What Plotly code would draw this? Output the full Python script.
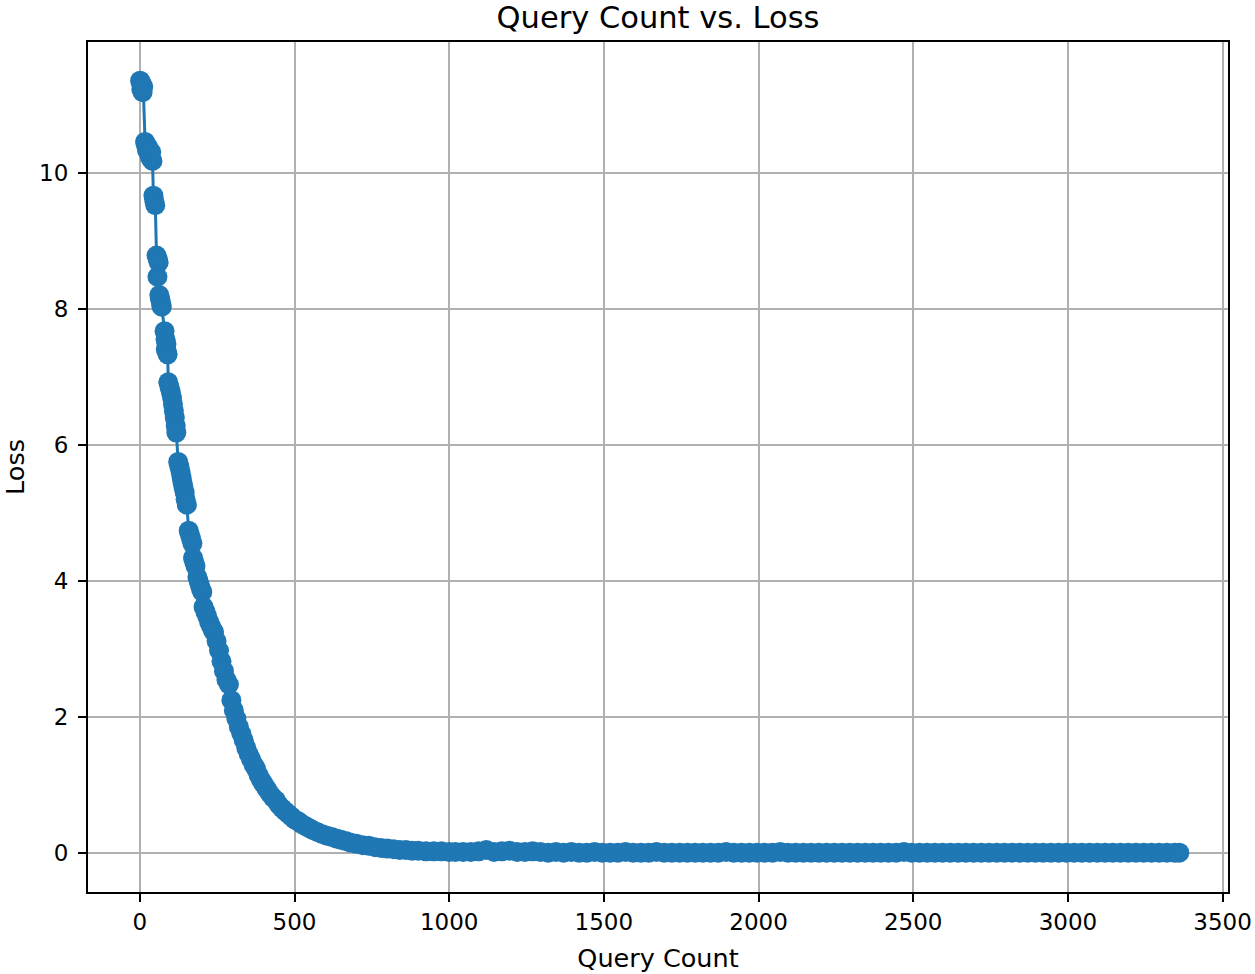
import plotly.graph_objects as go

# Early (clustered) part of the curve
early_query = [1, 3, 5, 7, 9, 11,
               17, 20, 23, 26, 29, 33, 37, 41,
               44, 47, 50,
               54, 58, 61, 57,
               63, 65, 67, 69, 71,
               80, 83, 86, 84, 88, 90,
               92, 96, 100, 104, 107, 110, 113, 116, 118,
               124, 128, 132, 135, 138, 141, 145, 148, 152,
               158, 162, 166, 170,
               172, 176, 180,
               186, 190, 194, 198, 202,
               206, 212, 218, 224, 230, 236]
early_loss = [11.35, 11.33, 11.22, 11.30, 11.18, 11.26,
              10.45, 10.40, 10.33, 10.38, 10.28, 10.22, 10.30, 10.17,
              9.66, 9.58, 9.52,
              8.78, 8.73, 8.68, 8.47,
              8.20, 8.15, 8.12, 8.06, 8.03,
              7.67, 7.55, 7.48, 7.40, 7.36, 7.33,
              6.92, 6.85, 6.78, 6.70, 6.60, 6.50, 6.40, 6.28, 6.18,
              5.75, 5.68, 5.60, 5.52, 5.45, 5.38, 5.30, 5.20, 5.12,
              4.74, 4.68, 4.62, 4.55,
              4.34, 4.28, 4.22,
              4.06, 4.00, 3.94, 3.88, 3.84,
              3.62, 3.55, 3.48, 3.40, 3.34, 3.28]

# Continuous decay section
mid_query = [240, 248, 256, 264, 272, 280, 288, 296, 304, 312, 320, 328, 336, 344,
             352, 360, 368, 376, 384, 392, 400, 410, 420, 430, 440, 450, 460, 470,
             480, 490, 500, 512, 524, 536, 548, 560, 575, 590, 605, 620, 635, 650,
             665, 680, 700, 720, 740, 760, 780, 800, 820, 840, 860, 880, 900, 925,
             950, 975, 1000]
mid_loss = [3.25, 3.12, 2.98, 2.82, 2.68, 2.55, 2.48, 2.25, 2.10, 1.98, 1.86, 1.76, 1.66, 1.55,
            1.46, 1.38, 1.30, 1.24, 1.15, 1.08, 1.02, 0.95, 0.88, 0.82, 0.78, 0.71, 0.66, 0.62,
            0.58, 0.54, 0.50, 0.47, 0.43, 0.40, 0.37, 0.34, 0.31, 0.28, 0.26, 0.24, 0.22, 0.20,
            0.18, 0.16, 0.14, 0.12, 0.11, 0.09, 0.08, 0.07, 0.06, 0.05, 0.05, 0.04, 0.04, 0.03,
            0.03, 0.03, 0.02]

# Flat tail
tail_query = [1020, 1045, 1070, 1095, 1120, 1145, 1170, 1195, 1220, 1245,
              1270, 1295, 1320, 1345, 1370, 1395, 1420, 1445, 1470, 1495,
              1520, 1545, 1570, 1595, 1620, 1645, 1670, 1695, 1720, 1745,
              1770, 1795, 1820, 1845, 1870, 1895, 1920, 1945, 1970, 1995,
              2020, 2045, 2070, 2095, 2120, 2145, 2170, 2195, 2220, 2245,
              2270, 2295, 2320, 2345, 2370, 2395, 2420, 2445, 2470, 2495,
              2520, 2545, 2570, 2595, 2620, 2645, 2670, 2695, 2720, 2745,
              2770, 2795, 2820, 2845, 2870, 2895, 2920, 2945, 2970, 2995,
              3020, 3045, 3070, 3095, 3120, 3145, 3170, 3195, 3220, 3245,
              3270, 3295, 3320, 3345, 3360]
tail_loss = [0.02, 0.02, 0.02, 0.03, 0.05, 0.02, 0.03, 0.04, 0.02, 0.02,
             0.03, 0.02, 0.01, 0.02, 0.01, 0.02, 0.01, 0.01, 0.02, 0.01,
             0.01, 0.01, 0.02, 0.01, 0.01, 0.01, 0.02, 0.01, 0.01, 0.01,
             0.01, 0.01, 0.01, 0.01, 0.01, 0.02, 0.01, 0.01, 0.01, 0.01,
             0.01, 0.01, 0.02, 0.01, 0.01, 0.01, 0.01, 0.01, 0.01, 0.01,
             0.01, 0.01, 0.01, 0.01, 0.01, 0.01, 0.01, 0.01, 0.02, 0.01,
             0.01, 0.01, 0.01, 0.01, 0.01, 0.01, 0.01, 0.01, 0.01, 0.01,
             0.01, 0.01, 0.01, 0.01, 0.01, 0.01, 0.01, 0.01, 0.01, 0.01,
             0.01, 0.01, 0.01, 0.01, 0.01, 0.01, 0.01, 0.01, 0.01, 0.01,
             0.01, 0.01, 0.01, 0.01, 0.01]

query = early_query + mid_query + tail_query
loss = early_loss + mid_loss + tail_loss

x_ticks = [0, 500, 1000, 1500, 2000, 2500, 3000, 3500]
y_ticks = [0, 2, 4, 6, 8, 10]

color = "#1f77b4"
font = "DejaVu Sans"

fig = go.Figure()
fig.add_trace(go.Scatter(
    x=query, y=loss, mode="lines+markers",
    line=dict(color=color, width=3),
    marker=dict(color=color, size=20, line=dict(width=0)),
    showlegend=False,
))

axis_common = dict(
    showgrid=True, gridcolor="#b0b0b0", gridwidth=2,
    showline=True, linecolor="black", linewidth=2, mirror=True,
    ticks="outside", ticklen=8, tickwidth=2, tickcolor="black",
    zeroline=False, automargin=False,
    tickfont=dict(family=font, size=23, color="black"),
)

fig.update_xaxes(range=[-167.5, 3517.5], tickvals=x_ticks,
                 title=dict(text="Query Count", font=dict(family=font, size=25.5, color="black"), standoff=16),
                 **axis_common)
fig.update_yaxes(range=[-0.5675, 11.9175], tickvals=y_ticks, ticklabelstandoff=5,
                 title=dict(text="Loss", font=dict(family=font, size=25.5, color="black"), standoff=16),
                 **axis_common)

fig.update_layout(
    width=1255, height=974,
    margin=dict(l=88, r=27, t=42, b=82, autoexpand=False),
    paper_bgcolor="white", plot_bgcolor="white",
    title=dict(text="Query Count vs. Loss", x=(88 + 1228) / 2 / 1255, xanchor="center",
               y=1 - 17 / 974, yanchor="middle", yref="container",
               font=dict(family=font, size=30.5, color="black")),
)

fig.write_html(
    "out.html",
    config={"displayModeBar": False},
    post_script=(
        "document.body.style.margin='0';"
        "document.body.style.overflow='hidden';"
        "document.documentElement.style.overflow='hidden';"
    ),
)
